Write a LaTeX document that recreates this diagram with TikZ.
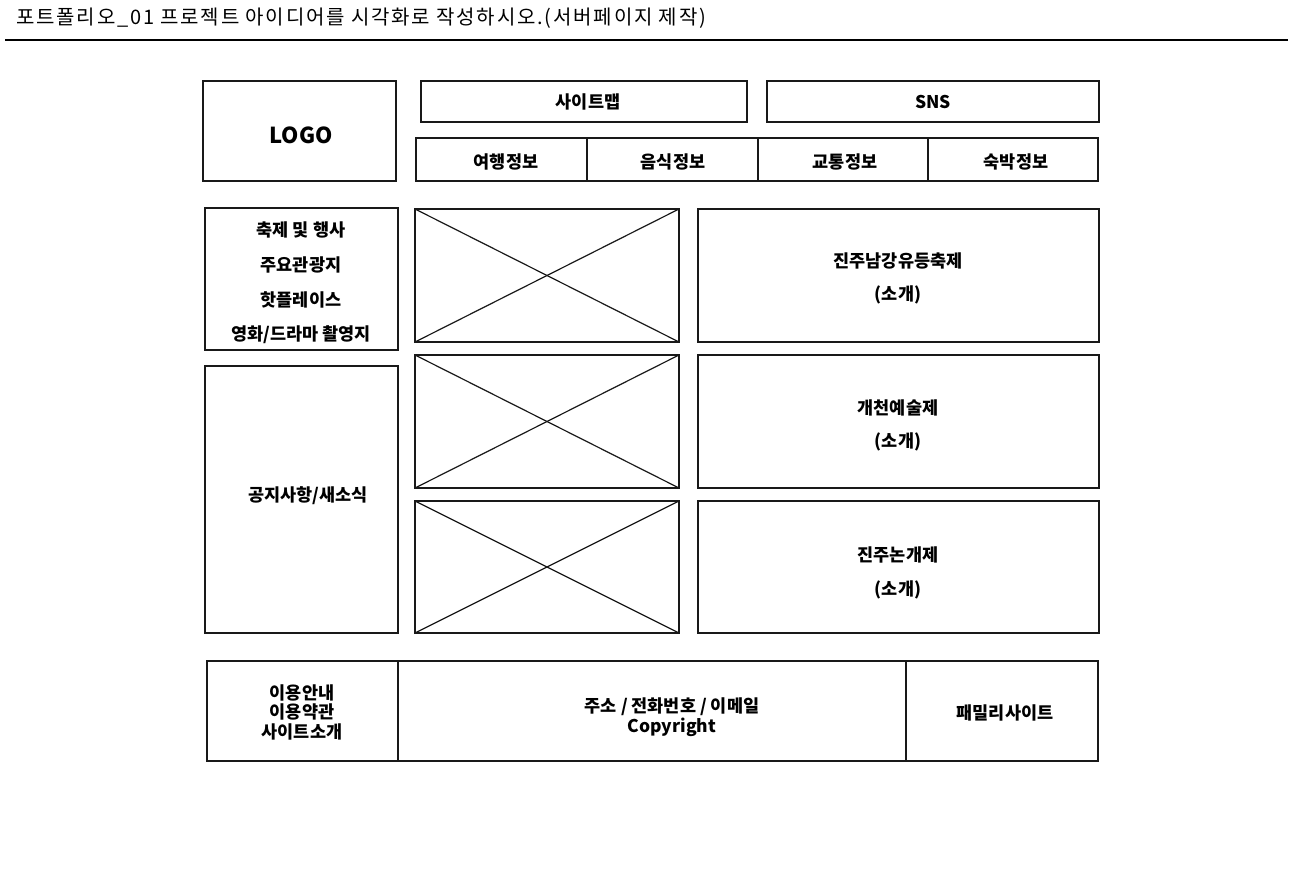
\documentclass[tikz,border=0pt]{standalone}
\usepackage{fontspec}
\setmainfont{Noto Sans CJK KR}
\newfontfamily\kr{Noto Sans CJK KR}
\newfontfamily\krt[LetterSpace=9]{Noto Sans CJK KR}
\begin{document}
\begin{tikzpicture}[x=1pt,y=-1pt,
  box/.style={draw=black!90,line width=2pt},
  xline/.style={draw=black!90,line width=1.2pt},
  lbl/.style={font=\kr\bfseries\fontsize{17.5}{19}\selectfont,inner sep=0pt,anchor=center,yshift=-2pt},
  big/.style={font=\kr\bfseries\fontsize{22}{24}\selectfont,inner sep=0pt,anchor=center,yshift=-2pt},
  foot/.style={font=\kr\bfseries\fontsize{17.5}{19.5}\selectfont,inner sep=0pt,align=center,anchor=center,yshift=-2pt},
  ttl/.style={font=\krt\fontsize{20}{22}\selectfont,inner sep=0pt,anchor=west,yshift=-1pt}]
\useasboundingbox (0,0) rectangle (1295,869);
% title
\node[ttl] (title) at (16,17) {포트폴리오\_01 프로젝트 아이디어를 시각화로 작성하시오.(서버페이지 제작)};
\draw[line width=2pt] (5,40) coordinate (r1) -- (1288,40) coordinate (r2);
% header
\draw[box] (203,81) rectangle (396,181);
\node[big] (logo) at (301,133) {LOGO};
\draw[box] (421,81) rectangle (747,122);
\node[lbl] (smap) at (588,100) {사이트맵};
\draw[box] (767,81) rectangle (1099,122);
\node[lbl] (sns) at (933,100) {SNS};
\draw[box] (416,138) rectangle (1098,181);
\draw[box] (587,138) -- (587,181);
\draw[box] (757.5,138) -- (757.5,181);
\draw[box] (928,138) -- (928,181);
\node[lbl] (m1) at (506,160) {여행정보};
\node[lbl] (m2) at (673,160) {음식정보};
\node[lbl] (m3) at (845,160) {교통정보};
\node[lbl] (m4) at (1016,160) {숙박정보};
% left column
\draw[box] (205,208) rectangle (398,350);
\node[lbl] (l1) at (301,228) {축제 및 행사};
\node[lbl] (l2) at (301,263) {주요관광지};
\node[lbl] (l3) at (301,298) {핫플레이스};
\node[lbl] (l4) at (301,333) {영화/드라마 촬영지};
\draw[box] (205,366) rectangle (398,633);
\node[lbl] (notice) at (308,494) {공지사항/새소식};
% image placeholders
\foreach \t/\b in {209/342,355/488,501/633}{
  \draw[xline] (415,\t) -- (679,\b);
  \draw[xline] (415,\b) -- (679,\t);
  \draw[box] (415,\t) rectangle (679,\b);
  \draw[box] (698,\t) rectangle (1099,\b);
}
\node[lbl] (f1) at (898,259) {진주남강유등축제};
\node[lbl] (f1s) at (898,293) {(소개)};
\node[lbl] (f2) at (898,406) {개천예술제};
\node[lbl] (f2s) at (898,440) {(소개)};
\node[lbl] (f3) at (898,553) {진주논개제};
\node[lbl] (f3s) at (898,588) {(소개)};
% footer
\draw[box] (207,661) rectangle (1098,761);
\draw[box] (398,661) -- (398,761);
\draw[box] (906,661) -- (906,761);
\node[foot] (fl) at (302,710) {이용안내\\이용약관\\사이트소개};
\node[foot] (fc) at (672,715) {주소 / 전화번호 / 이메일\\Copyright};
\node[foot] (fr) at (1005,711) {패밀리사이트};
\end{tikzpicture}
\end{document}
